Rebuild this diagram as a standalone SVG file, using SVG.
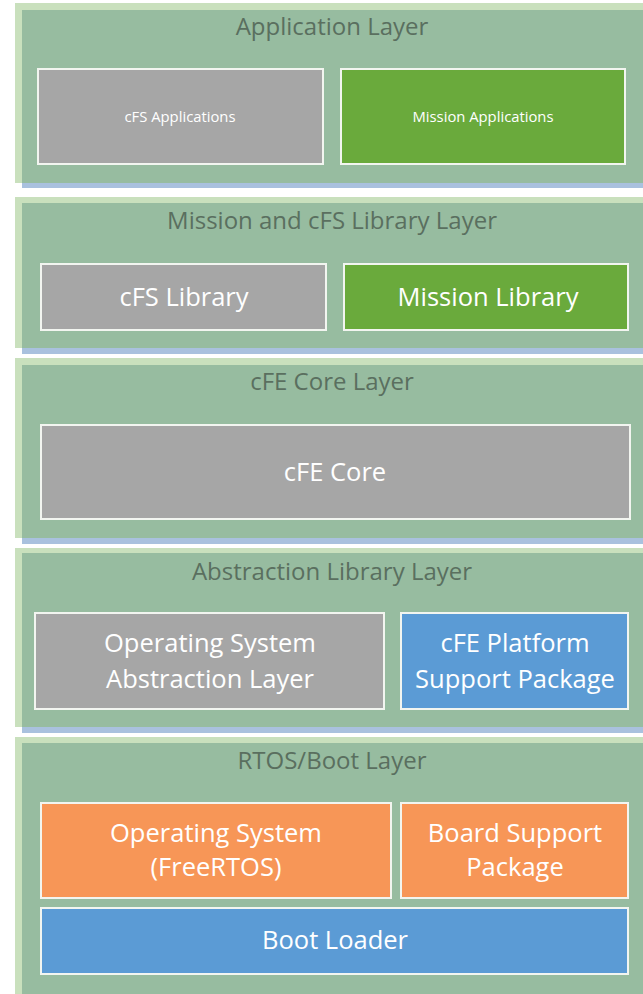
<svg xmlns="http://www.w3.org/2000/svg" width="643" height="994" viewBox="0 0 643 994">
<style>
.edge{fill:#c9e0bd}
.fill{fill:#97bca0}
.shadow{fill:#a9c1de}
.title{font-family:"Open Sans",sans-serif;font-size:24px;fill:#5a6f5f;text-anchor:middle}
.box{stroke:#f2f5f0;stroke-width:2}
.grey{fill:#a6a6a6}
.green{fill:#6aaa3c}
.blue{fill:#5b9bd5}
.orange{fill:#f79657}
.lbl{font-family:"Open Sans",sans-serif;font-size:25.5px;fill:#ffffff;text-anchor:middle}
.sm{font-family:"Open Sans",sans-serif;font-size:14.8px;fill:#ffffff;text-anchor:middle}
</style>
<rect width="643" height="994" fill="#ffffff"/>
<g id="layer-application">
<rect class="shadow" x="22" y="183" width="621" height="5"/>
<rect class="edge" x="15" y="3" width="628" height="180"/>
<rect class="fill" x="22" y="10" width="621" height="173"/>
<text class="title" x="332" y="35">Application Layer</text>
</g>
<g id="cfs-applications"><rect class="box grey" x="38" y="69" width="285" height="95"/><text class="sm" x="180" y="122">cFS Applications</text></g>
<g id="mission-applications"><rect class="box green" x="341" y="69" width="284" height="95"/><text class="sm" x="483" y="122">Mission Applications</text></g>

<g id="layer-library">
<rect class="shadow" x="22" y="348" width="621" height="6"/>
<rect class="edge" x="15" y="197" width="628" height="151"/>
<rect class="fill" x="22" y="203" width="621" height="145"/>
<text class="title" x="332" y="229">Mission and cFS Library Layer</text>
</g>
<g id="cfs-library"><rect class="box grey" x="41" y="264" width="285" height="66"/><text class="lbl" x="184" y="306">cFS Library</text></g>
<g id="mission-library"><rect class="box green" x="344" y="264" width="284" height="66"/><text class="lbl" x="488" y="306">Mission Library</text></g>

<g id="layer-core">
<rect class="shadow" x="22" y="538" width="621" height="6"/>
<rect class="edge" x="15" y="358" width="628" height="180"/>
<rect class="fill" x="22" y="365" width="621" height="173"/>
<text class="title" x="332" y="390">cFE Core Layer</text>
</g>
<g id="cfe-core"><rect class="box grey" x="41" y="425" width="589" height="94"/><text class="lbl" x="335" y="481">cFE Core</text></g>

<g id="layer-abstraction">
<rect class="shadow" x="22" y="727" width="621" height="6"/>
<rect class="edge" x="15" y="548" width="628" height="179"/>
<rect class="fill" x="22" y="553" width="621" height="174"/>
<text class="title" x="332" y="580">Abstraction Library Layer</text>
</g>
<g id="osal"><rect class="box grey" x="35" y="613" width="349" height="96"/><text class="lbl" x="210" y="652">Operating System</text><text class="lbl" x="210" y="688">Abstraction Layer</text></g>
<g id="psp"><rect class="box blue" x="401" y="613" width="227" height="96"/><text class="lbl" x="515" y="652">cFE Platform</text><text class="lbl" x="515" y="688">Support Package</text></g>

<g id="layer-rtos">
<rect class="edge" x="15" y="737" width="628" height="257"/>
<rect class="fill" x="22" y="743" width="621" height="251"/>
<text class="title" x="332" y="769">RTOS/Boot Layer</text>
</g>
<g id="os"><rect class="box orange" x="41" y="803" width="350" height="95"/><text class="lbl" x="216" y="842">Operating System</text><text class="lbl" x="216" y="876">(FreeRTOS)</text></g>
<g id="bsp"><rect class="box orange" x="401" y="803" width="227" height="95"/><text class="lbl" x="515" y="842">Board Support</text><text class="lbl" x="515" y="876">Package</text></g>
<g id="boot-loader"><rect class="box blue" x="41" y="908" width="587" height="66"/><text class="lbl" x="335" y="949">Boot Loader</text></g>
<g id="connectors"></g>
</svg>
